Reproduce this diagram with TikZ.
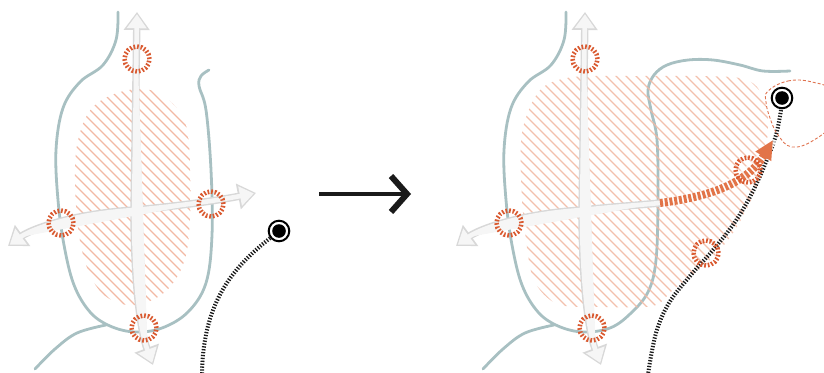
\documentclass[tikz,border=0pt]{standalone}
\usetikzlibrary{arrows.meta}
\definecolor{riverc}{HTML}{A8C0C2}
\definecolor{hatchc}{HTML}{F2B9A4}
\definecolor{ringc}{HTML}{D9592F}
\definecolor{stripec}{HTML}{E27448}
\definecolor{arrowo}{HTML}{D8D8D8}
\definecolor{arrowi}{HTML}{F6F6F6}
\definecolor{inkc}{HTML}{1A1A1A}
\begin{document}
\begin{tikzpicture}[x=1pt,y=-1pt,
  river/.style={draw=riverc, line width=2.8pt, line cap=round},
  hatchl/.style={draw=hatchc, line width=1.3pt},
  shaftoutB/.style={draw=arrowo, fill=arrowo, line width=7.4pt, arrows={Triangle[length=18pt,width=25pt]-Triangle[length=18pt,width=25pt]}},
  shaftinB/.style={draw=arrowi, fill=arrowi, line width=4.6pt, shorten <=2.2pt, shorten >=2.2pt, arrows={Triangle[length=14pt,width=19pt]-Triangle[length=14pt,width=19pt]}},
  shaftoutS/.style={draw=arrowo, fill=arrowo, line width=7.4pt, arrows={Triangle[length=18pt,width=25pt]-}},
  shaftinS/.style={draw=arrowi, fill=arrowi, line width=4.6pt, shorten <=2.2pt, arrows={Triangle[length=14pt,width=19pt]-}},
  ring/.style={circle, inner sep=0pt, minimum size=25pt, draw=ringc, line width=4.6pt, dash pattern=on 1.7pt off 1.85pt},
  target/.style={circle, inner sep=0pt, minimum size=20.6pt, draw=black, line width=2pt, fill=white},
  blackdots/.style={draw=inkc, line width=4pt, dash pattern=on 1.3pt off 1.6pt},
  stripe/.style={draw=stripec, line width=8pt, dash pattern=on 3pt off 1.8pt},
  blob/.style={draw=ringc!85, line width=0.9pt, dash pattern=on 3pt off 2pt},
  bigarrow/.style={draw=inkc, line width=4.6pt}
]
\useasboundingbox (0,0) rectangle (824,372);
\clip (0,0) rectangle (824,372);

% ---------------- LEFT PANEL ----------------
\draw[river] plot[smooth, tension=0.6] coordinates {(118,12) (116,40) (103,65) (80,82) (63,108) (56,150) (58,200) (64,245) (74,285) (90,312) (110,326) (135,332) (162,328) (188,312) (206,283) (212,235) (211,170) (206,110) (199,86) (201,76) (209,70)};
\draw[river] plot[smooth, tension=0.6] coordinates {(35,369) (55,349) (77,333) (106,325)};
\begin{scope}
\clip plot[smooth cycle, tension=0.6] coordinates {(120,92) (150,90) (172,103) (186,125) (190,165) (190,220) (184,262) (165,292) (135,305) (108,298) (90,275) (79,235) (75,180) (78,140) (92,108)};
\foreach \k in {-300,-290,...,220} \draw[hatchl] (\k,0) -- ++(400,400);
\end{scope}
\coordinate (vLt) at (137,12);
\coordinate (vLc) at (134,210);
\coordinate (vLb) at (153,365);
\coordinate (hLl) at (8,246);
\coordinate (hLr) at (256,193);
\draw[shaftoutB] (vLt) -- (vLc) .. controls (134,280) and (140,330) .. (vLb);
\draw[shaftoutB] (hLl) .. controls (30,230) and (70,214) .. (vLc) .. controls (180,206) and (220,200) .. (hLr);
\draw[shaftinB] (vLt) -- (vLc) .. controls (134,280) and (140,330) .. (vLb);
\draw[shaftinB] (hLl) .. controls (30,230) and (70,214) .. (vLc) .. controls (180,206) and (220,200) .. (hLr);
\node[ring] (rL1) at (137,59) {};
\node[ring] (rL2) at (61,223) {};
\node[ring] (rL3) at (211,204) {};
\node[ring] (rL4) at (144,328) {};
\node[target] (tL) at (279,231) {};
\fill[black] (tL.center) circle (6.8pt);
\coordinate (eL) at (202,374);
\draw[blackdots] (tL) .. controls (235,266) and (203,300) .. (eL);

% ---------------- MIDDLE ARROW ----------------
\coordinate (ma) at (319,194);
\coordinate (mb) at (407,194);
\coordinate (mu) at (391,176);
\coordinate (md) at (391,212);
\draw[bigarrow] (ma) -- (mb);
\draw[bigarrow, line width=6pt, miter limit=10] (mu) -- (mb) -- (md);

% ---------------- RIGHT PANEL ----------------
\draw[river] plot[smooth, tension=0.6] coordinates {(566,12) (564,40) (551,65) (528,82) (511,108) (504,150) (506,200) (512,245) (522,285) (538,312) (558,326) (583,332) (610,328) (630,314) (648,292) (656,260) (658,200) (657,140) (651,110) (648,90) (654,75) (667,65) (688,60) (713,60) (740,65) (763,71) (790,71)};
\draw[river] plot[smooth, tension=0.6] coordinates {(483,369) (503,349) (525,333) (554,325)};
\begin{scope}
\clip plot[smooth cycle, tension=0.5] coordinates {(573,77) (640,76) (700,76) (740,78) (757,87) (767,110) (767,140) (757,187) (733,233) (707,263) (673,290) (653,306) (600,307) (560,305) (540,290) (530,267) (522,200) (522,133) (540,90)};
\foreach \k in {150,160,...,800} \draw[hatchl, opacity=0.9] (\k,0) -- ++(400,400);
\end{scope}
\coordinate (vRt) at (585,12);
\coordinate (vRc) at (582,210);
\coordinate (vRb) at (601,365);
\coordinate (hRl) at (456,246);
\coordinate (hRm) at (660,203);
\coordinate (hRr) at (773,140);
\draw[shaftoutB] (vRt) -- (vRc) .. controls (582,280) and (588,330) .. (vRb);
\draw[shaftoutS] (hRl) .. controls (478,230) and (518,214) .. (vRc) .. controls (610,207) and (640,205) .. (hRm);
\draw[shaftinB] (vRt) -- (vRc) .. controls (582,280) and (588,330) .. (vRb);
\draw[shaftinS] (hRl) .. controls (478,230) and (518,214) .. (vRc) .. controls (610,207) and (640,205) .. (hRm);
\node[target] (tR) at (782,98) {};
\fill[black] (tR.center) circle (6.8pt);
\coordinate (eR) at (648,374);
\draw[blackdots] plot[smooth, tension=0.6] coordinates {(781,110) (776,135) (766,162) (752,193) (735,222) (713,250) (690,276) (669,303) (656,333) (648,374)};
\draw[white, line width=8pt, opacity=0.7] (hRm) .. controls (700,198) and (745,187) .. (hRr);
\draw[stripe, arrows={-Triangle[length=19pt,width=17pt]}] (hRm) .. controls (700,198) and (745,187) .. (hRr);
\node[ring] (rR1) at (585,59) {};
\node[ring] (rR2) at (509,223) {};
\node[ring] (rR3) at (748,170) {};
\node[ring] (rR4) at (592,328) {};
\node[ring] (rR5) at (706,253) {};
\draw[blob] plot[smooth cycle, tension=0.7] coordinates {(768,91) (788,81) (812,82) (832,92) (832,122) (814,140) (792,147) (778,135) (770,118) (766,102)};
\end{tikzpicture}
\end{document}
